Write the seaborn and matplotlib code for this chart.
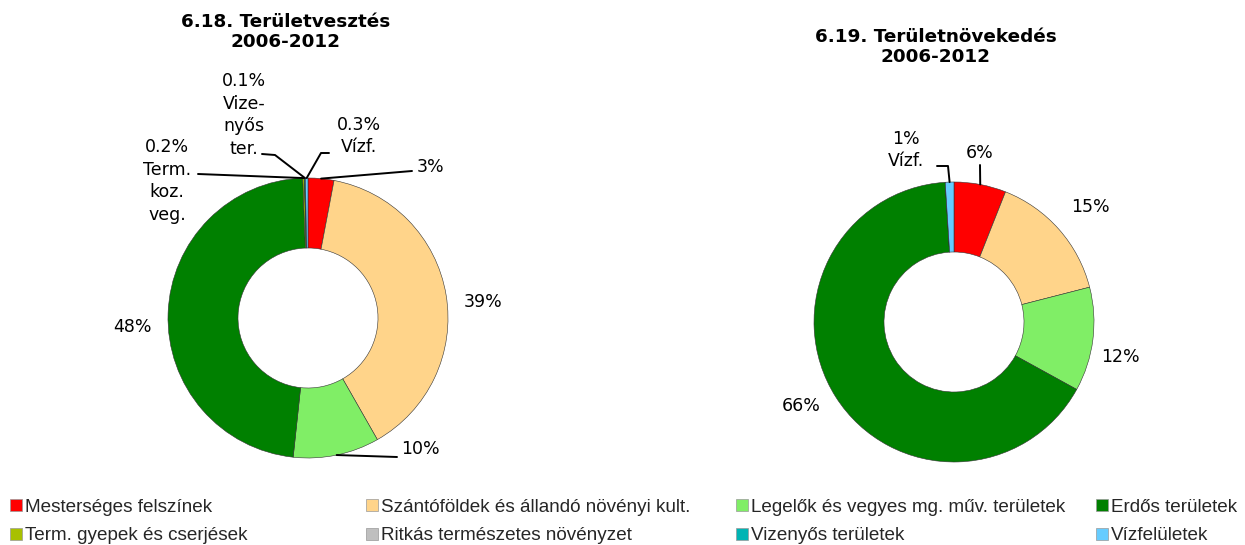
import numpy as np
import matplotlib
matplotlib.use("Agg")
import matplotlib.pyplot as plt
import matplotlib.patches as mpatches
import seaborn as sns

# ---- data ----
categories = ["Mesterséges felszínek", "Szántóföldek és állandó növényi kult.",
              "Legelők és vegyes mg. műv. területek", "Erdős területek",
              "Term. gyepek és cserjések", "Ritkás természetes növényzet",
              "Vizenyős területek", "Vízfelületek"]
loss_values = [3, 39, 10, 48, 0.2, 0, 0.1, 0.3]
gain_values = [6, 15, 12, 66, 0, 0, 0, 1]
loss_labels = ["3%", "39%", "10%", "48%", "0.2%\nTerm.\nkoz.\nveg.", "", "0.1%\nVize-\nnyős\nter.", "0.3%\nVízf."]
gain_labels = ["6%", "15%", "12%", "66%", "", "", "", "1%\nVízf."]
titles = ["6.18. Területvesztés\n2006-2012", "6.19. Területnövekedés\n2006-2012"]

colors = sns.color_palette(["#FF0000", "#FFD48A", "#80EE66", "#008000",
                            "#A8C000", "#BFBFBF", "#00B4B4", "#66CCFF"])

sns.set_theme(style="white")
plt.rcParams["font.family"] = ["DejaVu Sans"]

W, H = 1245, 545
R = 140  # pie radius in px
fig = plt.figure(figsize=(W / 100, H / 100), dpi=100)

# label layout in pixels: (text x, text y, ha, leader points)
loss_layout = [
    (430, 167, "center", [(412, 171)]),
    (483, 302, "center", None),
    (420, 449, "center", [(397, 457)]),
    (132, 327, "center", None),
    (167, 181, "center", [(198, 174)]),
    None,
    (244, 115, "center", [(262, 154), (275, 155)]),
    (359, 136, "center", [(329, 153), (321, 153)]),
]
gain_layout = [
    (980, 153, "center", [(980, 165)]),
    (1090, 207, "center", None),
    (1120, 357, "center", None),
    (801, 406, "center", None),
    None,
    None,
    None,
    (906, 150, "center", [(937, 166), (948, 166)]),
]


def draw_donut(cx, cy, values, labels, layout, title, tx, ty):
    ax = fig.add_axes([(cx - R) / W, 1 - (cy + R) / H, 2 * R / W, 2 * R / H])
    wedges, _ = ax.pie(values, colors=colors, startangle=90, counterclock=False,
                       radius=1, wedgeprops=dict(width=0.5, edgecolor="#333333", linewidth=0.4))
    ax.set_xlim(-1, 1)
    ax.set_ylim(-1, 1)
    ax.set_aspect("equal")
    ax.axis("off")

    def to_data(px, py):
        return (px - cx) / R, (cy - py) / R

    total = sum(values)
    cum = 0
    for v, lab, lay in zip(values, labels, layout):
        mid = (cum + v / 2) / total
        cum += v
        if lay is None or lab == "":
            continue
        x, y, ha, pts = lay
        dx, dy = to_data(x, y)
        ax.text(dx, dy, lab, ha=ha, va="center", fontsize=12.5,
                linespacing=1.35, color="black", clip_on=False)
        if pts:
            ang = np.pi / 2 - 2 * np.pi * mid
            ax_pts = [to_data(px, py) for px, py in pts] + [(np.cos(ang), np.sin(ang))]
            xs, ys = zip(*ax_pts)
            ax.plot(xs, ys, color="black", lw=1.4, clip_on=False)

    fig.text(tx / W, 1 - ty / H, title, ha="center", va="center", color="black",
             fontsize=13.2, fontweight="bold", linespacing=1.15)


draw_donut(308, 318, loss_values, loss_labels, loss_layout, titles[0], 286, 32)
draw_donut(954, 322, gain_values, gain_labels, gain_layout, titles[1], 936, 47)

# legend: four columns, two rows
col_x = [10, 366, 736, 1096]
for i, x in enumerate(col_x):
    handles = [mpatches.Patch(facecolor=colors[j], edgecolor="#999999", linewidth=0.5,
                              label=categories[j]) for j in (i, i + 4)]
    fig.legend(handles=handles, loc="upper left", bbox_to_anchor=(x / W, 1 - 499 / H),
               frameon=False, handlelength=0.62, handleheight=0.62, handletextpad=0.15,
               labelspacing=0.6, borderpad=0, borderaxespad=0,
               prop={"family": "Liberation Sans", "size": 13.6})

fig.savefig("out.png", dpi=100)
